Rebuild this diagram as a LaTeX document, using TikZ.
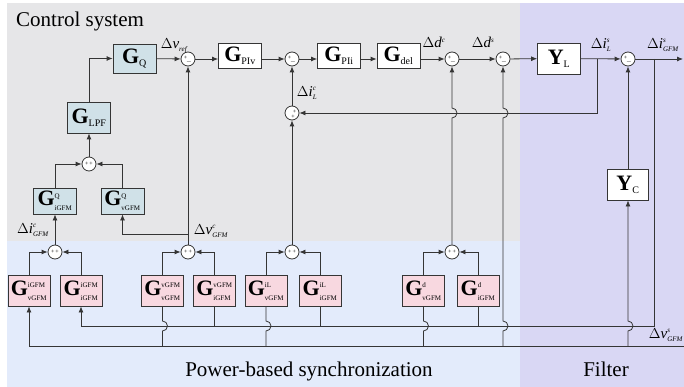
\documentclass[tikz,border=0pt]{standalone}
\usepackage{fontspec}
\setmainfont{Liberation Serif}
\usetikzlibrary{arrows.meta, positioning, calc}

\definecolor{ctrlgray}{HTML}{E6E6E8}
\definecolor{syncblue}{HTML}{E3EBFB}
\definecolor{filtlav}{HTML}{D9D7F4}
\definecolor{qblue}{HTML}{D0E1E8}
\definecolor{gpink}{HTML}{F8D8E0}
\definecolor{wirecol}{HTML}{353535}

% block with sub- and superscript, block with subscript only, signal label
\newcommand{\blk}[3]{$\mathbf{#1}^{\mbox{\fontsize{7}{7}\selectfont #2}}_{\mbox{\fontsize{7}{7}\selectfont #3}}$}
\newcommand{\tf}[2]{$\mathbf{#1}_{\mbox{\fontsize{10}{10}\selectfont #2}}$}
\newcommand{\dsig}[3]{$\Delta\mathit{#1}^{\mbox{\fontsize{7}{7}\selectfont\itshape #2}}_{\mbox{\fontsize{7}{7}\selectfont\itshape #3}}$}

\begin{document}
\begin{tikzpicture}[
  x=1pt, y=-1pt,
  box/.style={rectangle, draw=wirecol, fill=white, line width=0.8pt, inner sep=1pt,
    minimum width=43pt, minimum height=25pt, font=\fontsize{22}{22}\selectfont},
  qbox/.style={box, fill=qblue},
  pbox/.style={box, fill=gpink, minimum width=42pt, minimum height=31pt},
  sum/.style={circle, draw=wirecol, fill=white, line width=0.8pt, minimum size=14pt,
    inner sep=0pt, font=\fontsize{6}{6}\selectfont},
  sumpm/.style={sum, label={[sgn, xshift=-2.5pt, yshift=1.5pt]center:+},
    label={[sgn, xshift=1pt, yshift=-3.5pt]center:$-$}},
  sgn/.style={font=\fontsize{6}{6}\selectfont, inner sep=0pt},
  sig/.style={font=\fontsize{15}{15}\selectfont, inner sep=0pt},
  title/.style={inner sep=0pt, font=\fontsize{21}{21}\selectfont},
  arrow/.style={-{Latex[length=6pt, width=5pt]}, draw=wirecol, line width=0.8pt},
  wire/.style={draw=wirecol, line width=0.8pt}
]

% regions
\useasboundingbox (0,0) rectangle (684,387);
\fill[ctrlgray] (7,3) rectangle (520,241);
\fill[syncblue] (7,241) rectangle (520,387);
\fill[filtlav] (520,3) rectangle (684,387);
\node[title, anchor=base west] (ctitle) at (16,27) {Control system};
\node[title, anchor=base] (ptitle) at (309,376) {Power-based synchronization};
\node[title, anchor=base] (ftitle) at (606,376) {Filter};

% forward path
\node[qbox, minimum height=29pt] (GQ) at (134.5,58.5) {\tf{G}{Q}};
\node[sumpm] (s1) at (188,59) {};
\node[box] (Gpiv) at (240,56) {\tf{G}{PIv}};
\node[sumpm] (s2) at (292,59) {};
\node[box] (Gpii) at (339,56) {\tf{G}{PIi}};
\node[box] (Gdel) at (398.5,56) {\tf{G}{del}};
\node[sumpm] (s3) at (452,59) {};
\node[sumpm] (s4) at (503,59) {};
\node[box, minimum height=31pt] (YL) at (559,58.5) {\tf{Y}{L}};
\node[sumpm] (s5) at (628,59) {};
\coordinate (iout) at (683,59);
\coordinate (iLs) at (597,59);
\coordinate (ig) at (654,59);

\node[sum, label={[sgn, xshift=2.5pt, yshift=1.5pt]center:+},
  label={[sgn, xshift=1pt, yshift=-3.5pt]center:+}] (s6) at (292,113) {};

% reactive power loop
\node[qbox, minimum height=31pt] (Glpf) at (89,117.5) {\tf{G}{LPF}};
\node[sum] (s7) at (89,164) {+\,+};
\node[qbox, minimum height=26pt] (GQi) at (55,201) {\blk{G}{Q}{iGFM}};
\node[qbox, minimum height=26pt] (GQv) at (122.5,201) {\blk{G}{Q}{vGFM}};

% filter
\node[box, minimum width=41pt, minimum height=31pt] (YC) at (628,184.5) {\tf{Y}{C}};

% synchronization blocks
\node[pbox] (Kvi) at (29,290.5) {\blk{G}{iGFM}{vGFM}};
\node[pbox] (Kii) at (81,290.5) {\blk{G}{iGFM}{iGFM}};
\node[pbox] (Kvv) at (162.5,290.5) {\blk{G}{vGFM}{vGFM}};
\node[pbox] (Kiv) at (214.5,290.5) {\blk{G}{vGFM}{iGFM}};
\node[pbox] (Kvl) at (266,290.5) {\blk{G}{iL}{vGFM}};
\node[pbox] (Kil) at (320,290.5) {\blk{G}{iL}{iGFM}};
\node[pbox] (Kvd) at (423.5,290.5) {\blk{G}{d}{vGFM}};
\node[pbox] (Kid) at (478,290.5) {\blk{G}{d}{iGFM}};

\node[sum] (sa) at (55,252) {+\,+};
\node[sum] (sb) at (188,252) {+\,+};
\node[sum] (sc) at (292,252) {+\,+};
\node[sum] (sd) at (452,252) {+\,+};

\coordinate (vline) at (684,346);
\coordinate (iline) at (654,326);
\coordinate (vc) at (188,234);

% signals
\node[sig] (lvref) at (174,46) {\dsig{v}{}{ref}};
\node[sig] (ldc) at (434,44) {\dsig{d}{c}{}};
\node[sig] (lds) at (483,44) {\dsig{d}{s}{}};
\node[sig] (lils) at (601,45) {\dsig{i}{s}{L}};
\node[sig] (lig) at (663,45) {\dsig{i}{s}{GFM}};
\node[sig] (lilc) at (307,93) {\dsig{i}{c}{L}};
\node[sig] (licg) at (33,230) {\dsig{i}{c}{GFM}};
\node[sig] (lvcg) at (211,231) {\dsig{v}{c}{GFM}};
\node[sig] (lvsg) at (666,335) {\dsig{v}{s}{GFM}};

% connectors
\draw[arrow] (Glpf.north) |- (GQ.west);
\draw[arrow] (GQ) -- (s1);
\draw[arrow] (s1) -- (s1 -| Gpiv.west);
\draw[arrow] (s1 -| Gpiv.east) -- (s2);
\draw[arrow] (s2) -- (s2 -| Gpii.west);
\draw[arrow] (s2 -| Gpii.east) -- (s2 -| Gdel.west);
\draw[arrow] (s3 -| Gdel.east) -- (s3);
\draw[arrow] (s3) -- (s4);
\draw[arrow] (s4) -- (YL);
\draw[arrow] (YL) -- (s5);
\draw[arrow] (s5) -- (iout);
\draw[arrow] (iLs) |- (s6);
\draw[arrow] (s6) -- (s2);

\draw[arrow] (GQi.north) |- (s7);
\draw[arrow] (GQv.north) |- (s7);
\draw[arrow] (s7) -- (Glpf);

\foreach \a/\b/\s in {Kvi/Kii/sa, Kvv/Kiv/sb, Kvl/Kil/sc, Kvd/Kid/sd}{
  \draw[arrow] (\a.north) |- (\s);
  \draw[arrow] (\b.north) |- (\s);
}
\draw[arrow] (sa) -- (GQi);
\draw[arrow] (sb) -- (s1);
\draw[arrow] (vc) -| (GQv.south);
\draw[arrow] (sc) -- (s6);
\draw[arrow] (sd.north) -- ($(sd.north |- s6)+(0,5)$) arc[start angle=90, end angle=-90, radius=5] -- (s3.south);

% feedback of filter voltage and current
\draw[arrow] (vline) -| (Kvi.south);
\draw[arrow] (ig) -- (iline) -| (Kii.south);
\draw[arrow] (s4 |- vline) -- ($(s4 |- iline)+(0,5)$) arc[start angle=90, end angle=-90, radius=5]
  -- ($(s4 |- s6)+(0,5)$) arc[start angle=90, end angle=-90, radius=5] -- (s4.south);
\draw[arrow] (YC |- vline) -- ($(YC |- iline)+(0,5)$) arc[start angle=90, end angle=-90, radius=5] -- (YC.south);
\draw[arrow] (YC) -- (s5);

\foreach \k in {Kvv, Kvl, Kvd}
  \draw[wire] (\k.south) -- ($(\k.south |- iline)+(0,-5)$) arc[start angle=-90, end angle=90, radius=5] -- (\k.south |- vline);
\foreach \k in {Kiv, Kil, Kid}
  \draw[wire] (\k.south) -- (\k.south |- iline);

\end{tikzpicture}
\end{document}
